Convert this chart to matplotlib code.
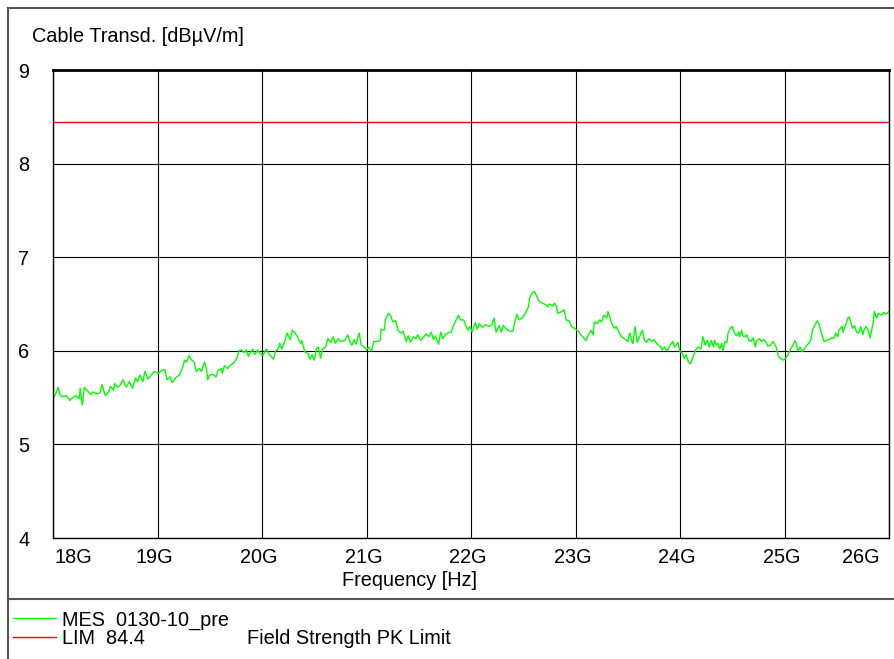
import matplotlib
matplotlib.use("Agg")
import matplotlib.pyplot as plt
from matplotlib.lines import Line2D
from matplotlib.transforms import ScaledTranslation

plt.rcParams['font.family'] = ['Liberation Sans', 'DejaVu Sans']
plt.rcParams['font.size'] = 14

# measured trace (GHz, dB)
freq_ghz = [
    18.00, 18.02, 18.05, 18.07, 18.10, 18.13, 18.16, 18.19, 18.22, 18.25, 18.26, 18.28,
    18.30, 18.34, 18.36, 18.38, 18.42, 18.45, 18.47, 18.50, 18.53, 18.55, 18.58, 18.59,
    18.62, 18.64, 18.67, 18.70, 18.73, 18.76, 18.79, 18.81, 18.83, 18.86, 18.88, 18.91,
    18.94, 18.97, 19.01, 19.04, 19.07, 19.09, 19.12, 19.14, 19.18, 19.21, 19.24, 19.26,
    19.28, 19.30, 19.33, 19.35, 19.37, 19.40, 19.42, 19.45, 19.47, 19.48, 19.50, 19.53,
    19.56, 19.58, 19.61, 19.62, 19.64, 19.67, 19.70, 19.73, 19.76, 19.78, 19.80, 19.83,
    19.85, 19.87, 19.89, 19.91, 19.93, 19.96, 19.98, 20.01, 20.04, 20.07, 20.11, 20.13,
    20.15, 20.17, 20.19, 20.22, 20.24, 20.27, 20.29, 20.31, 20.34, 20.37, 20.38, 20.41,
    20.44, 20.46, 20.48, 20.50, 20.52, 20.54, 20.56, 20.58, 20.61, 20.63, 20.66, 20.68,
    20.70, 20.73, 20.75, 20.79, 20.82, 20.84, 20.86, 20.88, 20.90, 20.93, 20.95, 20.98,
    21.00, 21.02, 21.05, 21.07, 21.11, 21.13, 21.14, 21.17, 21.18, 21.21, 21.23, 21.25,
    21.28, 21.30, 21.33, 21.35, 21.38, 21.40, 21.42, 21.45, 21.47, 21.49, 21.52, 21.54,
    21.57, 21.60, 21.62, 21.64, 21.66, 21.69, 21.71, 21.73, 21.76, 21.78, 21.81, 21.84,
    21.88, 21.90, 21.93, 21.95, 21.97, 21.99, 22.01, 22.04, 22.06, 22.08, 22.11, 22.14,
    22.17, 22.20, 22.22, 22.24, 22.27, 22.29, 22.31, 22.34, 22.37, 22.40, 22.42, 22.44,
    22.46, 22.49, 22.52, 22.55, 22.56, 22.59, 22.61, 22.63, 22.65, 22.68, 22.72, 22.73,
    22.75, 22.78, 22.80, 22.82, 22.83, 22.87, 22.89, 22.91, 22.94, 22.96, 22.99, 23.01,
    23.03, 23.05, 23.07, 23.10, 23.12, 23.15, 23.17, 23.18, 23.21, 23.23, 23.25, 23.27,
    23.30, 23.31, 23.33, 23.34, 23.37, 23.39, 23.41, 23.44, 23.47, 23.49, 23.50, 23.52,
    23.54, 23.55, 23.57, 23.59, 23.62, 23.64, 23.66, 23.68, 23.70, 23.73, 23.75, 23.79,
    23.81, 23.83, 23.85, 23.88, 23.90, 23.93, 23.95, 23.98, 24.00, 24.02, 24.04, 24.06,
    24.08, 24.10, 24.13, 24.15, 24.17, 24.20, 24.22, 24.24, 24.26, 24.28, 24.30, 24.32,
    24.33, 24.35, 24.36, 24.38, 24.40, 24.41, 24.43, 24.45, 24.46, 24.48, 24.50, 24.52,
    24.54, 24.56, 24.57, 24.59, 24.60, 24.62, 24.64, 24.66, 24.68, 24.70, 24.72, 24.73,
    24.76, 24.78, 24.80, 24.82, 24.84, 24.87, 24.89, 24.92, 24.94, 24.96, 24.99, 25.01,
    25.03, 25.05, 25.08, 25.10, 25.11, 25.13, 25.15, 25.17, 25.19, 25.23, 25.25, 25.27,
    25.29, 25.31, 25.33, 25.35, 25.38, 25.40, 25.43, 25.45, 25.47, 25.49, 25.51, 25.52,
    25.55, 25.56, 25.58, 25.59, 25.61, 25.62, 25.65, 25.67, 25.69, 25.71, 25.73, 25.75,
    25.76, 25.78, 25.80, 25.82, 25.83, 25.85, 25.86, 25.88, 25.90, 25.93, 25.95, 25.97,
    25.99, 26.00,
]
mes_level = [
    5.48, 5.53, 5.61, 5.52, 5.51, 5.52, 5.47, 5.50, 5.52, 5.49, 5.60, 5.42,
    5.61, 5.56, 5.53, 5.56, 5.54, 5.55, 5.64, 5.52, 5.56, 5.62, 5.58, 5.65,
    5.61, 5.63, 5.69, 5.61, 5.67, 5.60, 5.71, 5.67, 5.74, 5.67, 5.78, 5.70,
    5.74, 5.78, 5.76, 5.79, 5.80, 5.69, 5.72, 5.66, 5.72, 5.74, 5.82, 5.90,
    5.88, 5.95, 5.90, 5.88, 5.78, 5.81, 5.78, 5.88, 5.80, 5.69, 5.74, 5.75,
    5.72, 5.79, 5.81, 5.76, 5.84, 5.81, 5.85, 5.87, 5.92, 6.00, 6.01, 5.98,
    6.01, 5.94, 5.98, 6.02, 5.96, 6.01, 5.97, 5.95, 6.02, 5.96, 5.91, 6.00,
    6.01, 6.08, 6.02, 6.11, 6.19, 6.12, 6.22, 6.20, 6.15, 6.08, 6.11, 5.99,
    5.97, 5.91, 5.96, 5.90, 6.02, 6.04, 5.92, 6.02, 6.04, 6.13, 6.09, 6.15,
    6.08, 6.13, 6.10, 6.11, 6.17, 6.10, 6.06, 6.12, 6.07, 6.19, 6.06, 6.04,
    6.01, 6.04, 6.00, 6.10, 6.10, 6.11, 6.23, 6.22, 6.33, 6.40, 6.38, 6.31,
    6.32, 6.22, 6.19, 6.21, 6.10, 6.16, 6.09, 6.15, 6.13, 6.17, 6.11, 6.14,
    6.18, 6.15, 6.20, 6.12, 6.16, 6.07, 6.20, 6.13, 6.18, 6.19, 6.20, 6.29,
    6.38, 6.33, 6.33, 6.27, 6.22, 6.26, 6.20, 6.30, 6.23, 6.29, 6.25, 6.28,
    6.26, 6.28, 6.35, 6.20, 6.27, 6.20, 6.27, 6.23, 6.21, 6.21, 6.31, 6.39,
    6.33, 6.35, 6.40, 6.47, 6.56, 6.63, 6.63, 6.58, 6.53, 6.51, 6.49, 6.47,
    6.50, 6.48, 6.51, 6.47, 6.40, 6.42, 6.44, 6.33, 6.32, 6.26, 6.24, 6.22,
    6.21, 6.17, 6.15, 6.11, 6.16, 6.22, 6.17, 6.31, 6.29, 6.33, 6.31, 6.38,
    6.35, 6.42, 6.36, 6.31, 6.24, 6.26, 6.21, 6.15, 6.13, 6.11, 6.10, 6.19,
    6.10, 6.08, 6.26, 6.09, 6.17, 6.22, 6.11, 6.09, 6.13, 6.10, 6.12, 6.06,
    6.05, 6.01, 6.04, 6.00, 6.05, 6.10, 6.04, 6.09, 5.99, 5.98, 5.92, 5.96,
    5.88, 5.86, 5.95, 6.01, 6.04, 6.02, 6.15, 6.06, 6.11, 6.04, 6.11, 6.04,
    6.11, 6.06, 6.08, 6.02, 6.08, 6.00, 6.10, 6.09, 6.19, 6.24, 6.26, 6.19,
    6.16, 6.20, 6.15, 6.22, 6.16, 6.15, 6.17, 6.11, 6.10, 6.14, 6.04, 6.10,
    6.13, 6.10, 6.12, 6.10, 6.05, 6.06, 6.10, 6.04, 5.95, 5.92, 5.90, 5.92,
    5.95, 6.00, 6.06, 6.11, 6.08, 6.00, 6.04, 5.99, 6.02, 6.08, 6.11, 6.23,
    6.27, 6.32, 6.29, 6.20, 6.10, 6.11, 6.12, 6.14, 6.13, 6.19, 6.15, 6.22,
    6.26, 6.20, 6.27, 6.29, 6.36, 6.36, 6.24, 6.27, 6.20, 6.19, 6.26, 6.17,
    6.22, 6.26, 6.22, 6.14, 6.20, 6.31, 6.42, 6.35, 6.40, 6.38, 6.41, 6.39,
    6.41, 6.42,
]

limit_level = 8.44
x_min, x_max = 18, 26
y_ticks = [4, 5, 6, 7, 8, 9]
x_ticks = [18, 19, 20, 21, 22, 23, 24, 25, 26]
x_tick_labels = ['18G', '19G', '20G', '21G', '22G', '23G', '24G', '25G', '26G']

W, H = 894, 659
FS = 14.3
fig = plt.figure(figsize=(W / 100, H / 100), dpi=100)
ax = fig.add_axes([53 / W, 1 - 538 / H, 836 / W, 468 / H])

ax.plot(freq_ghz, mes_level, color='#00ff00', lw=1.0)
ax.axhline(limit_level, color='#ff0000', lw=1.0)

ax.set_xlim(x_min, x_max)
ax.set_ylim(y_ticks[0], y_ticks[-1])
ax.set_xticks(x_ticks)
ax.set_xticklabels(x_tick_labels)
ax.set_yticks(y_ticks)
ax.grid(True, color='black', lw=0.8)
ax.tick_params(length=0, labelsize=FS)
ax.tick_params(axis='x', pad=7.5)
ax.tick_params(axis='y', pad=17)
for s in ax.spines.values():
    s.set_color('black')
    s.set_linewidth(1.0)
ax.spines['top'].set_linewidth(2.0)

# nudge the labels: edge ones stay inside the plot area, inner ones sit a bit left
xl = ax.get_xticklabels()
for lab in xl[1:-1]:
    lab.set_transform(lab.get_transform() + ScaledTranslation(-3 / 100, 0, fig.dpi_scale_trans))
xl[0].set_ha('left')
xl[0].set_transform(xl[0].get_transform() + ScaledTranslation(2 / 100, 0, fig.dpi_scale_trans))
xl[-1].set_ha('right')
xl[-1].set_transform(xl[-1].get_transform() + ScaledTranslation(-9 / 100, 0, fig.dpi_scale_trans))

# outer frame and separator
frame_kw = dict(color='#555555', lw=1.5, transform=fig.transFigure)
fig.add_artist(Line2D([8 / W, 8 / W], [0, 1 - 8 / H], **frame_kw))
fig.add_artist(Line2D([8 / W, 1], [1 - 8 / H, 1 - 8 / H], **frame_kw))
fig.add_artist(Line2D([8 / W, 1], [1 - 599 / H, 1 - 599 / H], **frame_kw))

fig.text(32 / W, 1 - 36 / H, 'Cable Transd. [dBµV/m]', ha='left', va='center', fontsize=FS)
fig.text(410 / W, 1 - 580 / H, 'Frequency [Hz]', ha='center', va='center', fontsize=FS)

# legend block
fig.add_artist(Line2D([13 / W, 56 / W], [1 - 618 / H] * 2, color='#00ff00', lw=1.0,
                      transform=fig.transFigure))
fig.add_artist(Line2D([13 / W, 56 / W], [1 - 637 / H] * 2, color='#ff0000', lw=1.0,
                      transform=fig.transFigure))
fig.text(62 / W, 1 - 620 / H, 'MES  0130-10_pre', ha='left', va='center', fontsize=FS)
fig.text(62 / W, 1 - 639 / H, 'LIM  84.4', ha='left', va='center', fontsize=FS)
fig.text(247 / W, 1 - 639 / H, 'Field Strength PK Limit', ha='left', va='center', fontsize=FS)

fig.savefig('out.png', dpi=100)
